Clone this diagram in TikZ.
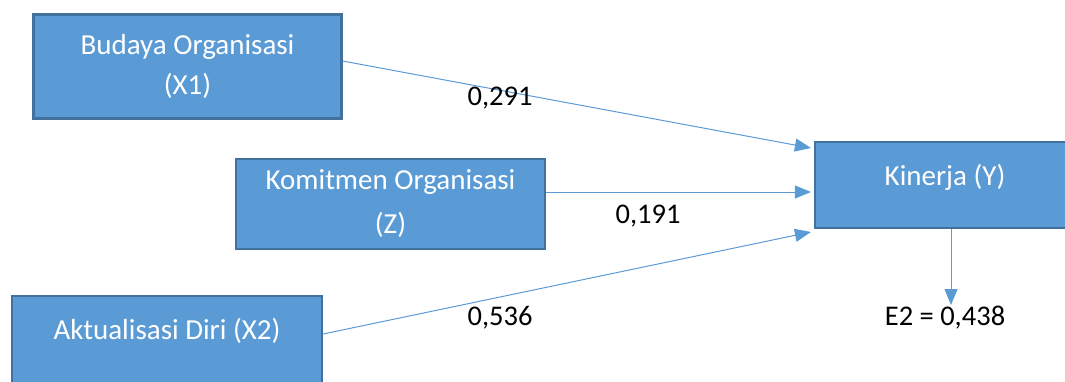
\documentclass[tikz,border=0pt]{standalone}
\usepackage{fontspec}
\setmainfont{Carlito}
\usetikzlibrary{arrows.meta,calc}
\definecolor{boxfill}{HTML}{5B9BD5}
\definecolor{boxline}{HTML}{41719C}
\definecolor{arrowc}{HTML}{5B9BD5}
\begin{document}
\begin{tikzpicture}[x=1pt,y=-1pt,
  box/.style={draw=boxline,line width=2.2pt,fill=boxfill,inner sep=0pt,text=white,align=center},
  boxtext/.style={text=white,inner sep=0pt,font=\fontsize{29}{35}\selectfont},
  lbl/.style={inner sep=0pt,font=\fontsize{28.5}{34}\selectfont},
  conn/.style={draw=arrowc,line width=1pt,-{Triangle[length=16pt,width=13pt]}}]
\useasboundingbox (0,0) rectangle (1065,381);
\clip (0,0) rectangle (1065,381);
\node[box,minimum width=308pt,minimum height=104pt,font=\fontsize{29}{40}\selectfont] (b1) at (187.5,66.5) {Budaya Organisasi\\(X1)};
\node[box,minimum width=309pt,minimum height=90pt,font=\fontsize{29}{44}\selectfont] (b2) at (390.5,204) {Komitmen Organisasi\\(Z)};
\node[box,minimum width=310pt,minimum height=100pt] (b3) at (167,346) {};
\node[boxtext] (t3) at (167,331) {Aktualisasi Diri (X2)};
\node[box,minimum width=400pt,minimum height=86pt] (y) at (1015,185) {};
\node[boxtext] (ty) at (945,177) {Kinerja (Y)};
\coordinate (s1) at (b1.east |- 0,61);
\coordinate (s2) at (b2.east |- 0,192);
\coordinate (s3) at (b3.east |- 0,334);
\coordinate (e1) at ($(y.west |- 0,148)+(-3,0)$);
\coordinate (e2) at ($(y.west |- 0,192)+(-3,0)$);
\coordinate (e3) at ($(y.west |- 0,232)+(-3,0)$);
\coordinate (e4) at (951,305);
\draw[conn] (s1) -- (e1);
\draw[conn] (s2) -- (e2);
\draw[conn] (s3) -- (e3);
\draw[conn] (ty |- y.south) ++(6,0) -- (e4);
\node[lbl] (l1) at (500,98) {0,291};
\node[lbl] (l2) at (648,216) {0,191};
\node[lbl] (l3) at (500,318) {0,536};
\node[lbl] (l4) at (945,318) {E2 = 0,438};
\end{tikzpicture}
\end{document}
